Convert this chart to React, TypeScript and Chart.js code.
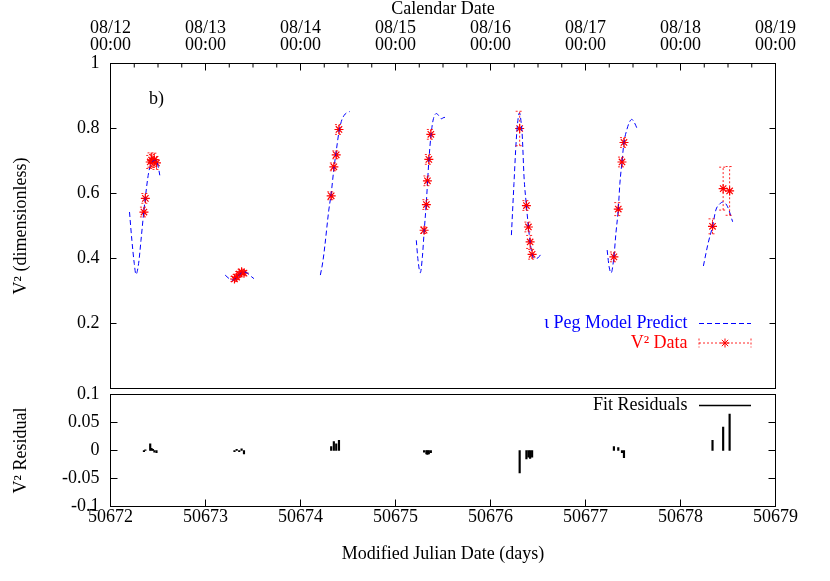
import React, { useEffect, useRef } from "react";
import { Chart, registerables } from "chart.js";

Chart.register(...registerables);

const SERIF = "'Liberation Serif', 'Times New Roman', Times, serif";

// ---- Axis ticks ----
const mjdTickValues = [50672, 50673, 50674, 50675, 50676, 50677, 50678, 50679];
const mjdTickLabels = ["50672", "50673", "50674", "50675", "50676", "50677", "50678", "50679"];
const calendarDayLabels = ["08/12", "08/13", "08/14", "08/15", "08/16", "08/17", "08/18", "08/19"];
const calendarTimeLabels = ["00:00", "00:00", "00:00", "00:00", "00:00", "00:00", "00:00", "00:00"];
const v2TickValues = [0, 0.2, 0.4, 0.6, 0.8, 1];
const v2TickLabels = ["", "0.2", "0.4", "0.6", "0.8", "1"];
const residualTickValues = [-0.1, -0.05, 0, 0.05, 0.1];
const residualTickLabels = ["-0.1", "-0.05", "0", "0.05", "0.1"];

// ---- Text ----
const topAxisTitle = "Calendar Date";
const bottomAxisTitle = "Modified Julian Date (days)";
const v2AxisTitle = "V\u00B2 (dimensionless)";
const residualAxisTitle = "V\u00B2 Residual";
const modelLegendLabel = "\u03B9 Peg Model Predict";
const dataLegendLabel = "V\u00B2 Data";
const residualLegendLabel = "Fit Residuals";
const panelLabel = "b)";

// ---- Model prediction curves (MJD, V^2), one per night ----
const modelNight1: [number, number][] = [
  [50672.2, 0.543], [50672.225, 0.456], [50672.25, 0.385], [50672.268, 0.351],
  [50672.296, 0.385], [50672.321, 0.456], [50672.35, 0.543], [50672.367, 0.588],
  [50672.402, 0.665], [50672.438, 0.697], [50672.473, 0.702], [50672.5, 0.685],
  [50672.519, 0.656],
];
const modelNight2: [number, number][] = [
  [50673.207, 0.349], [50673.25, 0.338], [50673.288, 0.334], [50673.33, 0.342],
  [50673.365, 0.352], [50673.4, 0.359], [50673.44, 0.355], [50673.48, 0.345],
  [50673.51, 0.338],
];
const modelNight3: [number, number][] = [
  [50674.209, 0.349], [50674.235, 0.39], [50674.255, 0.436], [50674.298, 0.549],
  [50674.323, 0.6], [50674.351, 0.675], [50674.376, 0.73], [50674.405, 0.79],
  [50674.43, 0.822], [50674.458, 0.84], [50674.49, 0.849], [50674.517, 0.852],
];
const modelNight4: [number, number][] = [
  [50675.219, 0.456], [50675.237, 0.395], [50675.261, 0.356], [50675.283, 0.405],
  [50675.301, 0.48], [50675.325, 0.575], [50675.351, 0.7], [50675.372, 0.775],
  [50675.396, 0.826], [50675.431, 0.846], [50675.46, 0.838], [50675.485, 0.83],
  [50675.51, 0.834], [50675.538, 0.834],
];
const modelNight5: [number, number][] = [
  [50676.22, 0.472], [50676.247, 0.631], [50676.271, 0.764], [50676.293, 0.836],
  [50676.305, 0.848], [50676.32, 0.825], [50676.335, 0.774], [50676.353, 0.651],
  [50676.378, 0.563], [50676.399, 0.497], [50676.417, 0.451], [50676.438, 0.413],
  [50676.47, 0.4], [50676.5, 0.402], [50676.53, 0.413],
];
const modelNight6: [number, number][] = [
  [50677.228, 0.426], [50677.249, 0.374], [50677.27, 0.356], [50677.299, 0.405],
  [50677.32, 0.477], [50677.345, 0.552], [50677.362, 0.631], [50677.384, 0.697],
  [50677.405, 0.757], [50677.434, 0.795], [50677.46, 0.818], [50677.487, 0.828],
  [50677.515, 0.818], [50677.547, 0.797],
];
const modelNight7: [number, number][] = [
  [50678.241, 0.377], [50678.29, 0.446], [50678.337, 0.499], [50678.372, 0.549],
  [50678.41, 0.567], [50678.449, 0.574], [50678.496, 0.559], [50678.549, 0.513],
];
const modelNights = [modelNight1, modelNight2, modelNight3, modelNight4, modelNight5, modelNight6, modelNight7];

// ---- V^2 measurements ----
const dataMJD = [
  50672.352, 50672.367, 50672.418, 50672.432, 50672.447, 50672.462, 50672.484,
  50673.305, 50673.328, 50673.355, 50673.38, 50673.405,
  50674.323, 50674.351, 50674.376, 50674.405,
  50675.301, 50675.325, 50675.336, 50675.351, 50675.372,
  50676.307, 50676.378, 50676.399, 50676.417, 50676.438,
  50677.299, 50677.345, 50677.384, 50677.405,
  50678.337, 50678.449, 50678.517,
];
const dataV2 = [
  0.543, 0.585, 0.697, 0.703, 0.7, 0.704, 0.694,
  0.337, 0.343, 0.352, 0.359, 0.355,
  0.593, 0.682, 0.719, 0.797,
  0.487, 0.566, 0.639, 0.705, 0.782,
  0.8, 0.563, 0.497, 0.451, 0.413,
  0.405, 0.552, 0.697, 0.757,
  0.499, 0.615, 0.608,
];
const dataErr = [
  0.015, 0.015, 0.02, 0.022, 0.02, 0.02, 0.02,
  0.008, 0.008, 0.008, 0.008, 0.008,
  0.012, 0.012, 0.012, 0.015,
  0.01, 0.015, 0.015, 0.015, 0.015,
  0.053, 0.015, 0.015, 0.02, 0.015,
  0.015, 0.02, 0.015, 0.015,
  0.023, 0.066, 0.075,
];
const residuals = [
  -0.002, 0.001, 0.012, 0.004, 0.002, -0.003, -0.004,
  -0.002, 0.002, -0.002, 0.003, -0.006,
  0.007, 0.016, 0.012, 0.018,
  -0.003, -0.006, -0.007, -0.006, -0.004,
  -0.04, -0.015, -0.012, -0.014, -0.012,
  0.007, 0.005, -0.004, -0.013,
  0.018, 0.042, 0.065,
];

const BLUE = "#0000ff";
const RED = "#ff0000";
const MODEL_DASH = [5, 3];

function drawStar(ctx: CanvasRenderingContext2D, x: number, y: number, r: number) {
  const d = r * Math.SQRT1_2;
  ctx.beginPath();
  ctx.moveTo(x - r, y); ctx.lineTo(x + r, y);
  ctx.moveTo(x, y - r); ctx.lineTo(x, y + r);
  ctx.moveTo(x - d, y - d); ctx.lineTo(x + d, y + d);
  ctx.moveTo(x - d, y + d); ctx.lineTo(x + d, y - d);
  ctx.stroke();
}

function zeroPadding(s: any) {
  s.paddingTop = 0;
  s.paddingBottom = 0;
  s.paddingLeft = 0;
  s.paddingRight = 0;
}

const topPlugin = {
  id: "topDecor",
  afterDatasetsDraw(chart: any) {
    const { ctx, scales } = chart;
    const xs = scales.x, ys = scales.y;
    ctx.save();
    ctx.strokeStyle = "rgba(255,0,0,0.85)";
    ctx.lineWidth = 1;
    ctx.setLineDash([2, 2]);
    ctx.beginPath();
    dataMJD.forEach((m, i) => {
      const px = xs.getPixelForValue(m);
      const y1 = ys.getPixelForValue(dataV2[i] - dataErr[i]);
      const y2 = ys.getPixelForValue(dataV2[i] + dataErr[i]);
      ctx.moveTo(px, y1); ctx.lineTo(px, y2);
      ctx.moveTo(px - 4, y1); ctx.lineTo(px + 4, y1);
      ctx.moveTo(px - 4, y2); ctx.lineTo(px + 4, y2);
    });
    ctx.stroke();
    ctx.restore();
  },
  afterDraw(chart: any) {
    const { ctx, chartArea: a, scales } = chart;
    const xs = scales.x, ys = scales.y;
    ctx.save();
    ctx.strokeStyle = "#000";
    ctx.lineWidth = 1;
    ctx.strokeRect(a.left, a.top, a.right - a.left, a.bottom - a.top);
    ctx.beginPath();
    mjdTickValues.forEach((v, i) => {
      const px = xs.getPixelForValue(v);
      ctx.moveTo(px, a.top); ctx.lineTo(px, a.top + 7);
      if (i < mjdTickValues.length - 1) {
        [0.25, 0.5, 0.75].forEach((q) => {
          const pm = xs.getPixelForValue(v + q);
          ctx.moveTo(pm, a.top); ctx.lineTo(pm, a.top + 4);
        });
      }
    });
    v2TickValues.forEach((v) => {
      const py = ys.getPixelForValue(v);
      ctx.moveTo(a.left, py); ctx.lineTo(a.left + 6, py);
      ctx.moveTo(a.right, py); ctx.lineTo(a.right - 6, py);
    });
    ctx.stroke();

    ctx.font = `18px ${SERIF}`;
    ctx.fillStyle = "#000";
    ctx.textAlign = "left";
    ctx.textBaseline = "alphabetic";
    ctx.fillText(panelLabel, a.left + 38.5, a.top + 40);

    const tx = a.right - 88;
    const l1 = a.right - 76.5;
    const l2 = a.right - 24.5;
    const y1 = a.top + 260;
    const y2 = a.top + 279.5;
    ctx.textAlign = "right";
    ctx.textBaseline = "middle";
    ctx.fillStyle = BLUE;
    ctx.fillText(modelLegendLabel, tx, y1);
    ctx.strokeStyle = BLUE;
    ctx.setLineDash(MODEL_DASH);
    ctx.beginPath();
    ctx.moveTo(l1, y1); ctx.lineTo(l2, y1);
    ctx.stroke();

    ctx.fillStyle = RED;
    ctx.fillText(dataLegendLabel, tx, y2);
    ctx.strokeStyle = "rgba(255,0,0,0.85)";
    ctx.setLineDash([2, 2]);
    ctx.beginPath();
    ctx.moveTo(l1, y2); ctx.lineTo(l2, y2);
    ctx.moveTo(l1, y2 - 4.5); ctx.lineTo(l1, y2 + 4.5);
    ctx.moveTo(l2, y2 - 4.5); ctx.lineTo(l2, y2 + 4.5);
    ctx.stroke();
    ctx.setLineDash([]);
    ctx.strokeStyle = RED;
    drawStar(ctx, (l1 + l2) / 2, y2, 4.5);
    ctx.restore();
  },
};

const bottomPlugin = {
  id: "bottomDecor",
  afterDraw(chart: any) {
    const { ctx, chartArea: a, scales } = chart;
    const xs = scales.x, ys = scales.y;
    ctx.save();
    ctx.strokeStyle = "#000";
    ctx.lineWidth = 1;
    ctx.strokeRect(a.left, a.top, a.right - a.left, a.bottom - a.top);
    ctx.beginPath();
    mjdTickValues.forEach((v) => {
      const px = xs.getPixelForValue(v);
      ctx.moveTo(px, a.bottom); ctx.lineTo(px, a.bottom - 7);
    });
    residualTickValues.forEach((v) => {
      const py = ys.getPixelForValue(v);
      ctx.moveTo(a.left, py); ctx.lineTo(a.left + 7, py);
      ctx.moveTo(a.right, py); ctx.lineTo(a.right - 7, py);
    });
    ctx.stroke();

    const tx = a.right - 88;
    const l1 = a.right - 76.5;
    const l2 = a.right - 24.5;
    const y1 = a.top + 11;
    ctx.font = `18px ${SERIF}`;
    ctx.fillStyle = "#000";
    ctx.textAlign = "right";
    ctx.textBaseline = "middle";
    ctx.fillText(residualLegendLabel, tx, y1);
    ctx.lineWidth = 1.5;
    ctx.beginPath();
    ctx.moveTo(l1, y1); ctx.lineTo(l2, y1);
    ctx.stroke();
    ctx.restore();
  },
};

const tickFont = { family: SERIF, size: 18 };
const titleFont = { family: SERIF, size: 18, lineHeight: 1 };

// bottom canvas starts at page y = 378 so its "0.1" label is not clipped
const BOTTOM_CANVAS_TOP = 378;
const BOTTOM_CANVAS_H = 581 - BOTTOM_CANVAS_TOP;

export default function App() {
  const topRef = useRef<HTMLCanvasElement>(null);
  const botRef = useRef<HTMLCanvasElement>(null);

  useEffect(() => {
    const modelSets = modelNights.map((night) => ({
      type: "scatter" as const,
      data: night.map(([x, y]) => ({ x, y })),
      showLine: true,
      borderColor: BLUE,
      borderWidth: 1,
      borderDash: MODEL_DASH,
      pointRadius: 0,
      cubicInterpolationMode: "monotone" as const,
    }));
    const dataSet = {
      type: "scatter" as const,
      data: dataMJD.map((x, i) => ({ x, y: dataV2[i] })),
      showLine: false,
      pointStyle: "star" as const,
      pointRadius: 4.5,
      borderColor: RED,
      backgroundColor: RED,
      borderWidth: 1.2,
    };

    const top = new Chart(topRef.current as HTMLCanvasElement, {
      type: "scatter",
      data: { datasets: [...modelSets, dataSet] as any },
      options: {
        animation: false,
        responsive: false,
        devicePixelRatio: 1,
        events: [],
        layout: { autoPadding: false, padding: { left: 0, right: 54.5, top: 0, bottom: 3.5 } },
        plugins: { legend: { display: false }, tooltip: { enabled: false } },
        scales: {
          x: {
            type: "linear",
            position: "top",
            min: mjdTickValues[0],
            max: mjdTickValues[mjdTickValues.length - 1],
            afterBuildTicks: (s: any) => {
              s.ticks = mjdTickValues.map((value) => ({ value }));
            },
            afterFit: (s: any) => {
              s.height = 63.5;
              zeroPadding(s);
            },
            ticks: {
              autoSkip: false,
              maxRotation: 0,
              padding: 9.5,
              color: "#000",
              font: { ...tickFont, lineHeight: 0.96 },
              callback: (_v: any, i: number) => [calendarDayLabels[i], calendarTimeLabels[i]],
            },
            grid: { display: false, drawTicks: false },
            border: { display: false },
            title: {
              display: true,
              text: topAxisTitle,
              color: "#000",
              font: titleFont,
              padding: { top: 0.5, bottom: 0 },
            },
          },
          y: {
            type: "linear",
            min: 0,
            max: 1,
            afterBuildTicks: (s: any) => {
              s.ticks = v2TickValues.map((value) => ({ value }));
            },
            afterFit: (s: any) => {
              s.width = 110.5;
              zeroPadding(s);
            },
            ticks: {
              padding: 11,
              color: "#000",
              font: tickFont,
              callback: (_v: any, i: number) => v2TickLabels[i],
            },
            grid: { display: false, drawTicks: false },
            border: { display: false },
            title: {
              display: true,
              text: v2AxisTitle,
              color: "#000",
              font: titleFont,
              padding: { top: 12.5, bottom: 0 },
            },
          },
        },
      } as any,
      plugins: [topPlugin],
    });

    const bot = new Chart(botRef.current as HTMLCanvasElement, {
      type: "bar",
      data: {
        datasets: [
          {
            data: dataMJD.map((x, i) => ({ x, y: residuals[i] })) as any,
            backgroundColor: "#000",
            borderWidth: 0,
            barThickness: 1.5,
          },
        ],
      },
      options: {
        animation: false,
        responsive: false,
        devicePixelRatio: 1,
        events: [],
        layout: {
          autoPadding: false,
          padding: { left: 0, right: 54.5, top: 394.5 - BOTTOM_CANVAS_TOP, bottom: 0 },
        },
        plugins: { legend: { display: false }, tooltip: { enabled: false } },
        scales: {
          x: {
            type: "linear",
            offset: false,
            min: mjdTickValues[0],
            max: mjdTickValues[mjdTickValues.length - 1],
            afterBuildTicks: (s: any) => {
              s.ticks = mjdTickValues.map((value) => ({ value }));
            },
            afterFit: (s: any) => {
              s.height = 74.5;
              zeroPadding(s);
            },
            ticks: {
              autoSkip: false,
              maxRotation: 0,
              padding: 2,
              color: "#000",
              font: { ...tickFont, lineHeight: 1 },
              callback: (_v: any, i: number) => mjdTickLabels[i],
            },
            grid: { display: false, drawTicks: false, offset: false },
            border: { display: false },
            title: {
              display: true,
              text: bottomAxisTitle,
              color: "#000",
              font: titleFont,
              padding: { top: 0, bottom: 18 },
            },
          },
          y: {
            type: "linear",
            min: -0.1,
            max: 0.1,
            afterBuildTicks: (s: any) => {
              s.ticks = residualTickValues.map((value) => ({ value }));
            },
            afterFit: (s: any) => {
              s.width = 110.5;
              zeroPadding(s);
            },
            ticks: {
              padding: 11,
              color: "#000",
              font: tickFont,
              callback: (_v: any, i: number) => residualTickLabels[i],
            },
            grid: { display: false, drawTicks: false },
            border: { display: false },
            title: {
              display: true,
              text: residualAxisTitle,
              color: "#000",
              font: titleFont,
              padding: { top: 12.5, bottom: 0 },
            },
          },
        },
      } as any,
      plugins: [bottomPlugin],
    });

    return () => {
      top.destroy();
      bot.destroy();
    };
  }, []);

  return (
    <div
      style={{
        position: "absolute",
        left: 0,
        top: 0,
        width: 830,
        height: 581,
        background: "#fff",
        overflow: "hidden",
      }}
    >
      <canvas
        ref={topRef}
        width={830}
        height={392}
        style={{ position: "absolute", left: 0, top: 0, width: 830, height: 392 }}
      />
      <canvas
        ref={botRef}
        width={830}
        height={BOTTOM_CANVAS_H}
        style={{ position: "absolute", left: 0, top: BOTTOM_CANVAS_TOP, width: 830, height: BOTTOM_CANVAS_H }}
      />
    </div>
  );
}
